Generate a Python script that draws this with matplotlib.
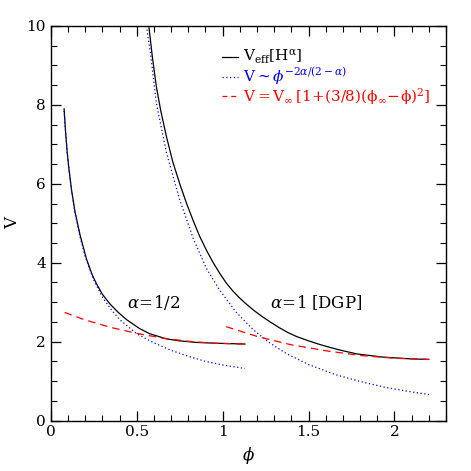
import matplotlib
matplotlib.use("Agg")
import matplotlib.pyplot as plt
from matplotlib.ticker import MultipleLocator, FuncFormatter
from matplotlib.lines import Line2D

# alpha = 1/2 branch
phi_a_black = [0.077, 0.085, 0.095, 0.105, 0.12, 0.14, 0.17, 0.207, 0.24, 0.266, 0.30, 0.343, 0.39, 0.44, 0.517, 0.576, 0.673, 0.75, 0.85, 0.963, 1.13]
V_a_black   = [7.90, 7.35, 6.80, 6.38, 5.85, 5.30, 4.70, 4.10, 3.70, 3.46, 3.20, 2.96, 2.75, 2.56, 2.33, 2.20, 2.07, 2.02, 1.98, 1.96, 1.94]
phi_a_blue  = [0.077, 0.085, 0.095, 0.105, 0.12, 0.14, 0.17, 0.20, 0.25, 0.30, 0.35, 0.40, 0.50, 0.60, 0.70, 0.80, 0.90, 1.00, 1.13]
V_a_blue    = [7.85, 7.35, 6.80, 6.38, 5.85, 5.28, 4.65, 4.15, 3.56, 3.13, 2.82, 2.56, 2.20, 1.97, 1.78, 1.63, 1.50, 1.41, 1.32]
phi_a_red   = [0.08, 0.20, 0.35, 0.50, 0.65, 0.80, 0.95, 1.13]
V_a_red     = [2.74, 2.55, 2.36, 2.21, 2.09, 2.01, 1.96, 1.94]

# alpha = 1 [DGP] branch
phi_b_black = [0.570, 0.59, 0.614, 0.64, 0.673, 0.71, 0.75, 0.79, 0.827, 0.865, 0.905, 0.945, 0.983, 1.02, 1.06, 1.10, 1.138, 1.185, 1.235, 1.28, 1.331, 1.38, 1.43, 1.50, 1.564, 1.62, 1.68, 1.78, 1.93, 2.09, 2.20]
V_b_black   = [10.0, 9.24, 8.46, 7.84, 7.19, 6.55, 6.00, 5.50, 5.08, 4.68, 4.32, 4.00, 3.73, 3.49, 3.28, 3.10, 2.95, 2.78, 2.62, 2.49, 2.35, 2.23, 2.13, 2.02, 1.93, 1.86, 1.79, 1.69, 1.61, 1.565, 1.55]
phi_b_blue  = [0.556, 0.58, 0.614, 0.673, 0.75, 0.83, 0.905, 0.983, 1.08, 1.176, 1.27, 1.37, 1.50, 1.66, 1.80, 1.95, 2.08, 2.20]
V_b_blue    = [10.0, 9.30, 8.04, 6.78, 5.59, 4.60, 3.86, 3.30, 2.74, 2.31, 1.98, 1.70, 1.42, 1.16, 0.99, 0.84, 0.74, 0.66]
phi_b_red   = [1.02, 1.21, 1.40, 1.60, 1.80, 2.00, 2.20]
V_b_red     = [2.38, 2.12, 1.92, 1.77, 1.65, 1.58, 1.55]

legend_labels = [r'$\mathrm{V_{eff}[H^{\alpha}]}$',
                 r'$\mathrm{V}\sim\phi^{-2\alpha/(2-\alpha)}$',
                 r'$\mathrm{V=V_{\infty}\,[1\!+\!(3/8)(\phi_{\infty}\!-\!\phi)^2]}$']

plt.rcParams['font.family'] = ['DejaVu Serif']
plt.rcParams['mathtext.fontset'] = 'dejavuserif'

fig = plt.figure(figsize=(4.71, 4.71), dpi=100)
ax = fig.add_axes([0.108, 0.107, 0.839, 0.838])

lw = 0.9
dot = (0, (1, 2))
dash = (0, (6, 4))
ax.plot(phi_a_black, V_a_black, color='black', lw=lw)
ax.plot(phi_a_blue, V_a_blue, color='blue', lw=lw, ls=dot)
ax.plot(phi_a_red, V_a_red, color='red', lw=lw, ls=dash)
ax.plot(phi_b_black, V_b_black, color='black', lw=lw)
ax.plot(phi_b_blue, V_b_blue, color='blue', lw=lw, ls=dot)
ax.plot(phi_b_red, V_b_red, color='red', lw=lw, ls=dash)

ax.set_xlim(0, 2.3)
ax.set_ylim(0, 10)
ax.xaxis.set_major_locator(MultipleLocator(0.5))
ax.xaxis.set_minor_locator(MultipleLocator(0.1))
ax.yaxis.set_major_locator(MultipleLocator(2))
ax.yaxis.set_minor_locator(MultipleLocator(0.5))
ax.xaxis.set_major_formatter(FuncFormatter(lambda v, p: '%g' % v))
ax.tick_params(which='both', direction='in', top=True, right=True, labelsize=11)
ax.tick_params(which='major', length=7, width=0.9)
ax.tick_params(which='minor', length=4, width=0.8)
for s in ax.spines.values():
    s.set_linewidth(1.0)

ax.set_xlabel(r'$\phi$', fontsize=12)
ax.set_ylabel('V', fontsize=12)

ax.text(0.60, 3.0, r'$\alpha\!=\!1/2$', fontsize=12, ha='center', va='center')
ax.text(1.544, 3.0, r'$\alpha\!=\!1\;\mathrm{[DGP]}$', fontsize=12, ha='center', va='center')

# manual legend
colors = ['black', 'blue', 'red']
styles = ['-', dot, (0, (4, 3))]
rows = [0.921, 0.871, 0.822]
for lab, c, st, y in zip(legend_labels, colors, styles, rows):
    ax.add_line(Line2D([0.433, 0.473], [y, y], transform=ax.transAxes, color=c, lw=lw, ls=st))
    ax.text(0.486, y, lab, transform=ax.transAxes, color=c, fontsize=11, ha='left', va='center')

fig.savefig('out.png', dpi=100)
